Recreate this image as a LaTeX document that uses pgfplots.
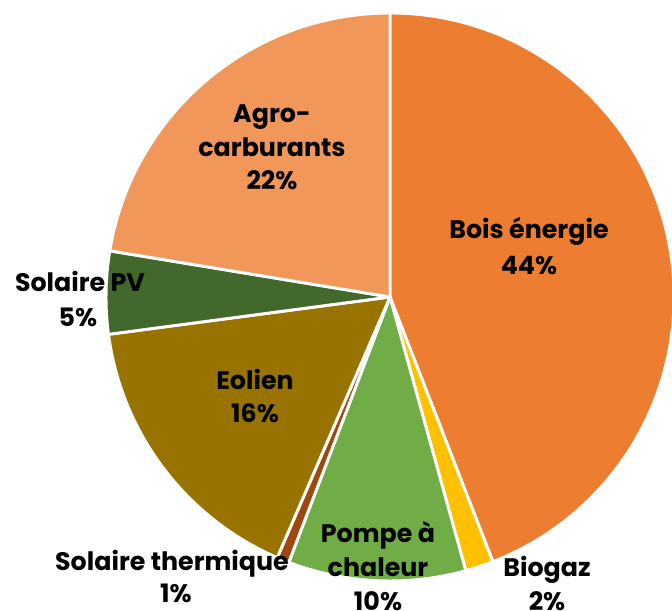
\documentclass[border=0pt]{standalone}
\usepackage{pgfplots}
\usepackage{pgfplotstable}
\pgfplotsset{compat=1.18}
\usepackage{fontspec}
\setmainfont{Poppins}
\definecolor{cBois}{HTML}{ED7D31}
\definecolor{cBiogaz}{HTML}{FFC000}
\definecolor{cPompe}{HTML}{70AD47}
\definecolor{cSolTh}{HTML}{9E480E}
\definecolor{cEolien}{HTML}{997300}
\definecolor{cSolPV}{HTML}{43682B}
\definecolor{cAgro}{HTML}{F1975A}

\pgfplotstableread{
label value
Bois 44.1
Biogaz 1.6
Pompe 10.1
SolTh 0.7
Eolien 16.4
SolPV 4.7
Agro 22.4
}\piedata

\def\pieR{213pt}
\newcommand\piewedge[2]{%
  \edef\tmp{\noexpand\filldraw[fill=#2,draw=white,line width=2.2pt,line join=round]
    (axis cs:0,0) -- (axis cs:{cos(\csname sa#1\endcsname)},{sin(\csname sa#1\endcsname)})
    arc[start angle=\csname sa#1\endcsname, end angle=\csname ea#1\endcsname, radius=\pieR] -- cycle;}%
  \tmp}
\newcommand\lbl[3]{\node[anchor=base,inner sep=0pt,font=\bfseries\fontsize{19pt}{22pt}\selectfont] at ({#1*0.75pt},{(611-#2)*0.75pt}) {#3};}

\begin{document}
\begin{tikzpicture}
\def\cumangle{90}
\pgfplotsforeachungrouped \i in {0,...,6}{%
  \pgfplotstablegetelem{\i}{value}\of\piedata
  \pgfmathsetmacro\endang{\cumangle-3.6*\pgfplotsretval}%
  \expandafter\xdef\csname sa\i\endcsname{\cumangle}%
  \expandafter\xdef\csname ea\i\endcsname{\endang}%
  \xdef\cumangle{\endang}%
}
\useasboundingbox (0,0) rectangle (504pt,458.25pt);
\clip (0,0) rectangle (504pt,458.25pt);
\begin{axis}[at={(0,0)}, anchor=south west, x=213pt, y=213pt,
  xmin=-1.37324, xmax=0.99296, ymin=-1.10563, ymax=1.04577,
  hide axis, clip=false]
\piewedge{0}{cBois}
\piewedge{1}{cBiogaz}
\piewedge{2}{cPompe}
\piewedge{3}{cSolTh}
\piewedge{4}{cEolien}
\piewedge{5}{cSolPV}
\piewedge{6}{cAgro}
\end{axis}
\lbl{529}{239}{Bois énergie}
\lbl{529}{275}{44\%}
\lbl{272}{123}{Agro-}
\lbl{272}{157}{carburants}
\lbl{272}{190}{22\%}
\lbl{80}{292}{Solaire PV}
\lbl{78}{327}{5\%}
\lbl{255}{390}{Eolien}
\lbl{255}{423}{16\%}
\lbl{172}{571}{Solaire thermique}
\lbl{176}{603}{1\%}
\lbl{378}{543}{Pompe à}
\lbl{378}{577}{chaleur}
\lbl{378}{611}{10\%}
\lbl{547}{577}{Biogaz}
\lbl{547}{611}{2\%}
\end{tikzpicture}
\end{document}
